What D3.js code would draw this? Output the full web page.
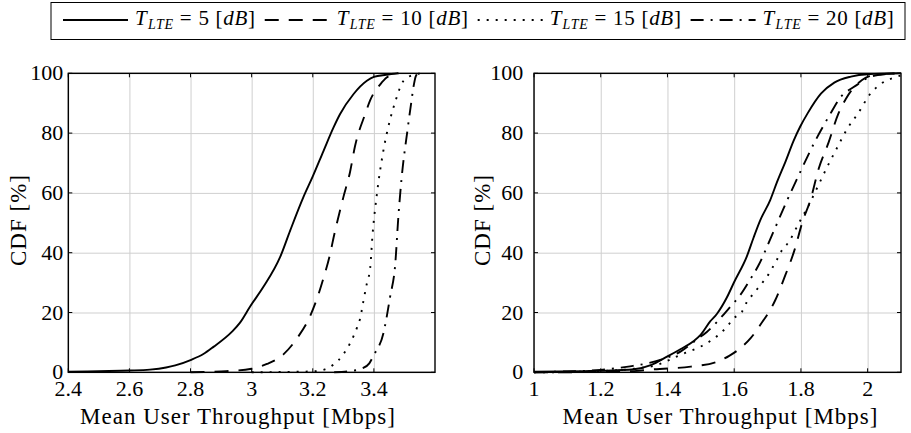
<!DOCTYPE html>
<html>
<head>
<meta charset="utf-8">
<script src="https://cdn.jsdelivr.net/npm/d3@7"></script>
<style>
  body { margin: 0; background: #fff; }
  svg { display: block; }
</style>
</head>
<body>
<svg id="chart" width="911" height="433"></svg>
<script>
// Threshold values shown in the legend
const thresholds = [5, 10, 15, 20];

// Axis ticks and domains
const yTicks = [0, 20, 40, 60, 80, 100];
const leftXTicks = [2.4, 2.6, 2.8, 3, 3.2, 3.4];
const rightXTicks = [1, 1.2, 1.4, 1.6, 1.8, 2];
const leftXDomain = [2.4, 3.6];
const rightXDomain = [1, 2.1];

// Left panel: CDF [%] vs mean user throughput [Mbps]
const leftT5 = [[2.4,0.2],[2.5,0.4],[2.6,0.6],[2.667,0.9],[2.72,1.6],[2.75,2.3],[2.8,4.1],[2.842,6.1],[2.875,8.5],[2.935,13.5],[2.962,16.6],[2.995,22],[3.038,28.5],[3.093,38.5],[3.126,47.4],[3.169,58.5],[3.2,65.5],[3.235,74],[3.268,81.9],[3.289,86.3],[3.333,93],[3.377,97.5],[3.4,98.8],[3.44,99.5],[3.48,100]];
const leftT10 = [[2.8,0],[2.9,0.3],[3.0,1.2],[3.05,2.8],[3.104,6],[3.148,11.3],[3.19,18.5],[3.215,25],[3.235,31.5],[3.257,39.7],[3.268,45],[3.3,58.5],[3.322,67],[3.338,75.5],[3.372,86.5],[3.388,91],[3.421,96.3],[3.442,98.6],[3.48,100]];
const leftT15 = [[3.0,0],[3.2,0.3],[3.24,1],[3.268,2.6],[3.3,6],[3.322,9.7],[3.345,15],[3.355,18],[3.366,24],[3.377,29.7],[3.388,35],[3.395,45.2],[3.41,59.7],[3.431,74.1],[3.453,84.5],[3.47,90.5],[3.491,96.5],[3.513,98.8],[3.555,100]];
const leftT20 = [[3.27,0],[3.33,0.5],[3.36,1.2],[3.385,3],[3.4,5.8],[3.431,13],[3.453,25.2],[3.47,36.3],[3.48,51.9],[3.491,65.2],[3.51,81],[3.522,90],[3.53,95.7],[3.537,99],[3.545,100]];

// Right panel
const rightT5 = [[1.0,0.2],[1.15,0.4],[1.25,0.7],[1.3,1.0],[1.35,2.4],[1.4,5.3],[1.44,7.8],[1.478,10.4],[1.5,12.6],[1.528,17],[1.548,19.5],[1.578,25],[1.6,30.2],[1.638,38.8],[1.658,45],[1.678,50.8],[1.708,57.6],[1.728,63.5],[1.755,70.8],[1.778,77.4],[1.798,82.2],[1.82,86.6],[1.86,93.2],[1.9,96.9],[1.95,98.9],[2.0,99.7],[2.1,100]];
const rightT10 = [[1.0,0],[1.2,0.1],[1.3,0.4],[1.36,1.0],[1.47,1.9],[1.548,3.5],[1.585,5.5],[1.623,8.5],[1.65,11.5],[1.678,15.8],[1.723,24.1],[1.753,32.4],[1.78,40.6],[1.806,50.8],[1.828,57.4],[1.853,68],[1.883,76.9],[1.912,86.4],[1.935,91.5],[1.958,95.2],[1.975,97],[2.0,98.8],[2.05,99.8],[2.1,100]];
const rightT15 = [[1.0,0],[1.1,0.1],[1.2,0.4],[1.3,1.2],[1.378,2.8],[1.403,4.0],[1.438,5.8],[1.47,7.2],[1.503,8.8],[1.533,10.8],[1.578,15.2],[1.598,18],[1.623,20.2],[1.638,23.5],[1.658,26.3],[1.678,29.1],[1.698,31.9],[1.713,34.7],[1.728,37.6],[1.743,40.8],[1.763,43.5],[1.793,49.7],[1.823,55.8],[1.85,62],[1.878,68.5],[1.908,75],[1.938,81.3],[1.973,86.9],[2.007,93],[2.04,96.5],[2.077,98.5],[2.1,99.3]];
const rightT20 = [[1.0,0],[1.1,0.3],[1.2,0.8],[1.288,2.0],[1.34,3.0],[1.388,4.5],[1.44,7.0],[1.488,11.0],[1.518,13.5],[1.553,17.4],[1.585,21.5],[1.618,25.8],[1.645,30.5],[1.673,35.8],[1.713,45.8],[1.753,56.1],[1.793,65.8],[1.843,77.4],[1.888,86.4],[1.918,91.9],[1.958,95.4],[1.98,97],[2.0,98.5],[2.05,99.7],[2.1,100]];

// Line style per threshold (solid, dashed, dotted, dash-dot)
const dashStyles = [null, "14,10", "2,7", "13,7,2,7"];

const FONT = "'Liberation Serif', 'DejaVu Serif', serif";
const svg = d3.select("#chart").attr("font-family", FONT);
const plotTop = 73.3, plotBottom = 372.3;

const panels = [
  { x0: 68.3, x1: 435, domain: leftXDomain, ticks: leftXTicks,
    series: [leftT5, leftT10, leftT15, leftT20], xLabelCx: 238, yLabelCx: 19.3, tickLabelRight: 63.3 },
  { x0: 534, x1: 901, domain: rightXDomain, ticks: rightXTicks,
    series: [rightT5, rightT10, rightT15, rightT20], xLabelCx: 720.5, yLabelCx: 483.3, tickLabelRight: 523.3 }
];

const y = d3.scaleLinear().domain([0, 100]).range([plotBottom, plotTop]);

panels.forEach(p => {
  const x = d3.scaleLinear().domain(p.domain).range([p.x0, p.x1]);
  const g = svg.append("g");

  // grid
  g.append("g").attr("transform", `translate(0,${plotBottom})`)
    .call(d3.axisBottom(x).tickValues(p.ticks).tickSize(-(plotBottom - plotTop)).tickFormat(""))
    .call(a => a.select(".domain").remove())
    .call(a => a.selectAll("line").attr("stroke", "#cfcfcf").attr("stroke-width", 1));
  g.append("g").attr("transform", `translate(${p.x0},0)`)
    .call(d3.axisLeft(y).tickValues(yTicks).tickSize(-(p.x1 - p.x0)).tickFormat(""))
    .call(a => a.select(".domain").remove())
    .call(a => a.selectAll("line").attr("stroke", "#cfcfcf").attr("stroke-width", 1));

  // curves
  const line = d3.line().x(d => x(d[0])).y(d => y(d[1])).curve(d3.curveMonotoneX);
  p.series.forEach((s, i) => {
    g.append("path").datum(s)
      .attr("d", line)
      .attr("fill", "none")
      .attr("stroke", "#000")
      .attr("stroke-width", 1.9)
      .attr("stroke-dasharray", dashStyles[i]);
  });

  // inward ticks on all four sides
  const tl = 4;
  const tk = g.append("g").attr("stroke", "#000").attr("stroke-width", 1);
  p.ticks.forEach(v => {
    tk.append("line").attr("x1", x(v)).attr("x2", x(v)).attr("y1", plotBottom).attr("y2", plotBottom - tl);
    tk.append("line").attr("x1", x(v)).attr("x2", x(v)).attr("y1", plotTop).attr("y2", plotTop + tl);
  });
  yTicks.forEach(v => {
    tk.append("line").attr("x1", p.x0).attr("x2", p.x0 + tl).attr("y1", y(v)).attr("y2", y(v));
    tk.append("line").attr("x1", p.x1).attr("x2", p.x1 - tl).attr("y1", y(v)).attr("y2", y(v));
  });

  // frame
  g.append("rect").attr("x", p.x0).attr("y", plotTop)
    .attr("width", p.x1 - p.x0).attr("height", plotBottom - plotTop)
    .attr("fill", "none").attr("stroke", "#000").attr("stroke-width", 1.4);

  // tick labels
  g.selectAll(".xl").data(p.ticks).enter().append("text")
    .attr("x", d => x(d)).attr("y", 396)
    .attr("text-anchor", "middle").attr("font-size", 22)
    .text(d => d3.format("~g")(d));
  g.selectAll(".yl").data(yTicks).enter().append("text")
    .attr("x", p.tickLabelRight).attr("y", d => y(d) + 7)
    .attr("text-anchor", "end").attr("font-size", 22)
    .text(d => d);

  // axis labels
  g.append("text").attr("x", p.xLabelCx).attr("y", 424)
    .attr("text-anchor", "middle").attr("font-size", 23)
    .attr("letter-spacing", 1)
    .text("Mean User Throughput [Mbps]");
  g.append("text")
    .attr("transform", `translate(${p.yLabelCx + 7},220) rotate(-90)`)
    .attr("text-anchor", "middle").attr("font-size", 23)
    .attr("letter-spacing", 1)
    .text("CDF [%]");
});

// legend
const lg = svg.append("g");
lg.append("rect").attr("x", 51).attr("y", 2.5).attr("width", 854).attr("height", 37)
  .attr("fill", "#fff").attr("stroke", "#000").attr("stroke-width", 1);

let cx = 63;
const ly = 20;
thresholds.forEach((v, i) => {
  lg.append("line").attr("x1", cx).attr("x2", cx + 65).attr("y1", ly).attr("y2", ly)
    .attr("stroke", "#000").attr("stroke-width", 1.9)
    .attr("stroke-dasharray", dashStyles[i]);
  cx += 65 + 7;
  const t = lg.append("text").attr("x", cx).attr("y", 25).attr("font-size", 21)
    .attr("letter-spacing", 0.7);
  t.append("tspan").attr("font-style", "italic").text("T");
  t.append("tspan").attr("font-style", "italic").attr("font-size", 14)
    .attr("dy", 4).attr("dx", 0.5).text("LTE");
  t.append("tspan").attr("dy", -4).attr("dx", 6).text("=");
  t.append("tspan").attr("dx", 6).text(v);
  t.append("tspan").attr("dx", 6).text("[");
  t.append("tspan").attr("font-style", "italic").text("dB");
  t.append("tspan").text("]");
  cx += t.node().getBBox().width + 9;
});
</script>
</body>
</html>
